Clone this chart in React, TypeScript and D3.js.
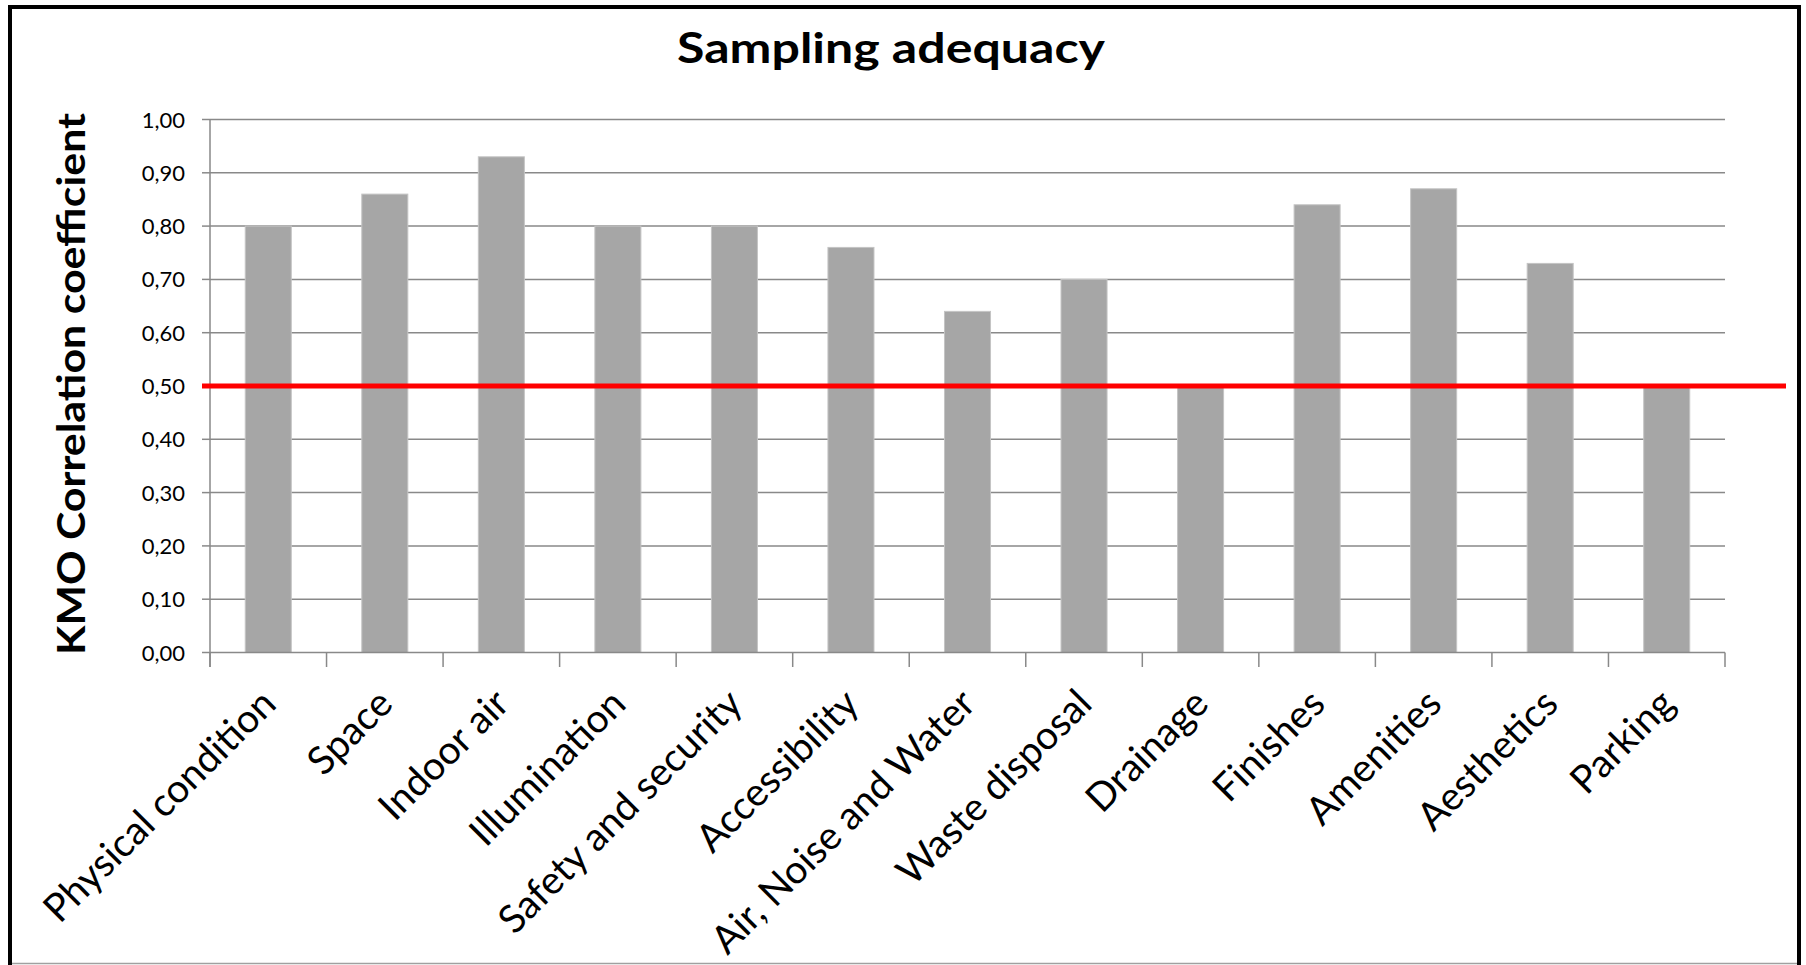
import React from "react";
import * as d3 from "d3";

const categories = [
  "Physical condition",
  "Space",
  "Indoor air",
  "Illumination",
  "Safety and security",
  "Accessibility",
  "Air, Noise and Water",
  "Waste disposal",
  "Drainage",
  "Finishes",
  "Amenities",
  "Aesthetics",
  "Parking",
];
const kmoValues = [0.8, 0.86, 0.93, 0.8, 0.8, 0.76, 0.64, 0.7, 0.5, 0.84, 0.87, 0.73, 0.5];
const yTicks = [0, 0.1, 0.2, 0.3, 0.4, 0.5, 0.6, 0.7, 0.8, 0.9, 1.0];
const threshold = 0.5;
const title = "Sampling adequacy";
const yLabel = "KMO Correlation coefficient";

const W = 1806;
const H = 965;
const plotLeft = 210;
const plotRight = 1725;
const plotTop = 119.5;
const plotBottom = 652.5;
const FONT = "Lato, 'Open Sans', sans-serif";

export default function App() {
  const x = d3.scaleBand<string>().domain(categories).range([plotLeft, plotRight]).paddingInner(0.605).paddingOuter(0.3025);
  const xb = d3.scaleBand<string>().domain(categories).range([plotLeft, plotRight]);
  const y = d3.scaleLinear().domain([0, 1]).range([plotBottom, plotTop]);
  const fmt = (v: number) => d3.format(".2f")(v).replace(".", ",");
  const gridColor = "#898989";
  const boundaries = categories.map((c) => xb(c) as number).concat([plotRight]);
  const labelScale = 1;

  return (
    <svg width={W} height={H} style={{ position: "absolute", left: 0, top: 0, background: "#fff" }}>
      <rect x={0} y={0} width={W} height={H} fill="#fff" />
      {/* frame */}
      <line x1={10} y1={7} x2={1799} y2={7} stroke="#000" strokeWidth={4} />
      <line x1={10} y1={5} x2={10} y2={H} stroke="#000" strokeWidth={4} />
      <line x1={1799} y1={5} x2={1799} y2={H} stroke="#000" strokeWidth={4} />
      <line x1={12} y1={963.5} x2={1797} y2={963.5} stroke="#a0a0a0" strokeWidth={1.5} />

      {/* title */}
      <text x={891} y={63} textAnchor="middle" fontFamily={FONT} fontWeight={700} fontSize={42} textLength={428} lengthAdjust="spacingAndGlyphs">
        {title}
      </text>

      {/* y label */}
      <text transform="translate(85,384) rotate(-90)" textAnchor="middle" fontFamily={FONT} fontWeight={700} fontSize={39} textLength={542} lengthAdjust="spacingAndGlyphs">
        {yLabel}
      </text>

      {/* gridlines & y ticks */}
      {yTicks.map((t) => (
        <g key={t}>
          {t > 0 && <line x1={plotLeft} x2={plotRight} y1={y(t)} y2={y(t)} stroke={gridColor} strokeWidth={1.5} />}
          <line x1={plotLeft - 8} x2={plotLeft} y1={y(t)} y2={y(t)} stroke={gridColor} strokeWidth={1.5} />
          <text x={185} y={y(t) + 8} textAnchor="end" fontFamily={FONT} fontSize={22} fill="#000">
            {fmt(t)}
          </text>
        </g>
      ))}

      {/* bars */}
      {categories.map((c, i) => (
        <rect key={c} x={x(c)} y={y(kmoValues[i])} width={x.bandwidth()} height={plotBottom - y(kmoValues[i])} fill="#a6a6a6" stroke="#c4c4c4" strokeWidth={1} />
      ))}

      {/* axes */}
      <line x1={plotLeft} x2={plotLeft} y1={plotTop} y2={667} stroke={gridColor} strokeWidth={1.5} />
      <line x1={plotLeft} x2={plotRight} y1={plotBottom} y2={plotBottom} stroke={gridColor} strokeWidth={1.5} />
      {boundaries.map((bx, i) => (
        <line key={i} x1={bx} x2={bx} y1={plotBottom} y2={667} stroke={gridColor} strokeWidth={1.5} />
      ))}

      {/* threshold */}
      <line x1={202} x2={1786} y1={y(threshold)} y2={y(threshold)} stroke="#ff0000" strokeWidth={5} />

      {/* category labels */}
      {categories.map((c) => {
        const cx = (xb(c) as number) + xb.bandwidth() / 2;
        return (
          <text key={c} transform={`translate(${cx + 10},${706}) rotate(-45) scale(${labelScale},1)`} textAnchor="end" fontFamily={FONT} fontSize={39} fill="#000">
            {c}
          </text>
        );
      })}
    </svg>
  );
}
